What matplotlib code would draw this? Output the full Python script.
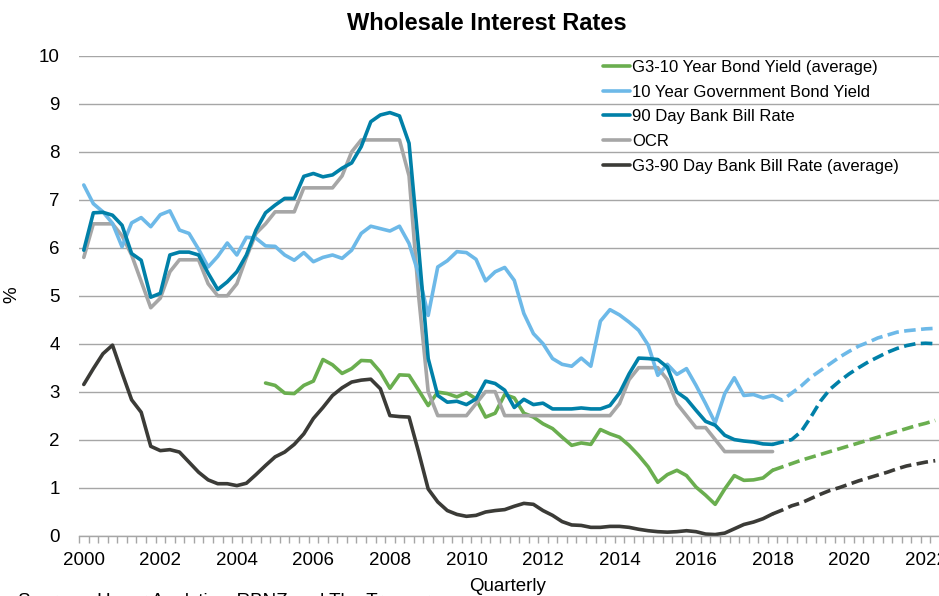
import matplotlib
matplotlib.use("Agg")
import matplotlib.pyplot as plt
import numpy as np

plt.rcParams['font.family'] = ['Liberation Sans', 'DejaVu Sans']

# Quarterly index: 0 = 2000Q1 ... 89 = 2022Q2 ; history to 72 (2018Q1), forecast 72..89
tick_labels = ["2000", "2002", "2004", "2006", "2008", "2010", "2012",
               "2014", "2016", "2018", "2020", "2022"]

g3_10yr = [3.18, 3.13, 2.97, 2.96, 3.13, 3.22, 3.67, 3.56, 3.38, 3.48, 3.65, 3.64,
           3.41, 3.07, 3.35, 3.34, 3.03, 2.71, 2.99, 2.96, 2.89, 2.98, 2.85, 2.47,
           2.55, 2.94, 2.87, 2.55, 2.47, 2.33, 2.23, 2.05, 1.88, 1.93, 1.90, 2.21,
           2.12, 2.05, 1.88, 1.67, 1.43, 1.11, 1.27, 1.36, 1.25, 1.01, 0.84, 0.65,
           0.97, 1.25, 1.15, 1.16, 1.20, 1.36]  # starts 2004Q4 (index 19)
g3_10yr_start = 19
g3_10yr_fc = [1.36, 1.43, 1.50, 1.57, 1.63, 1.69, 1.75, 1.81, 1.87, 1.93, 1.99,
              2.05, 2.11, 2.17, 2.23, 2.29, 2.34, 2.40]

gov_10yr = [7.31, 6.92, 6.75, 6.51, 6.02, 6.52, 6.63, 6.44, 6.69, 6.77, 6.37, 6.30,
            5.97, 5.60, 5.82, 6.10, 5.85, 6.22, 6.20, 6.04, 6.03, 5.85, 5.74, 5.90,
            5.71, 5.80, 5.85, 5.78, 5.95, 6.30, 6.45, 6.40, 6.35, 6.45, 6.09, 5.45,
            4.59, 5.60, 5.73, 5.92, 5.90, 5.76, 5.31, 5.50, 5.59, 5.32, 4.63, 4.21,
            4.00, 3.69, 3.57, 3.53, 3.70, 3.53, 4.47, 4.71, 4.60, 4.45, 4.28, 3.97,
            3.34, 3.57, 3.36, 3.48, 3.13, 2.75, 2.35, 2.96, 3.29, 2.92, 2.94, 2.87,
            2.92]
gov_10yr_fc = [2.92, 2.82, 2.97, 3.12, 3.30, 3.44, 3.58, 3.72, 3.84, 3.95, 4.03,
               4.12, 4.18, 4.24, 4.27, 4.29, 4.31, 4.32]

bill_90d = [5.95, 6.73, 6.74, 6.68, 6.47, 5.88, 5.74, 4.97, 5.05, 5.85, 5.91, 5.91,
            5.85, 5.47, 5.13, 5.29, 5.50, 5.85, 6.37, 6.73, 6.89, 7.03, 7.03, 7.49,
            7.55, 7.48, 7.52, 7.66, 7.77, 8.11, 8.63, 8.77, 8.82, 8.75, 8.18, 6.00,
            3.69, 2.92, 2.78, 2.80, 2.73, 2.85, 3.22, 3.17, 3.03, 2.67, 2.84, 2.73,
            2.76, 2.64, 2.64, 2.64, 2.66, 2.64, 2.64, 2.71, 2.97, 3.37, 3.70, 3.69,
            3.67, 3.51, 2.99, 2.85, 2.61, 2.38, 2.30, 2.09, 2.00, 1.97, 1.95, 1.91,
            1.90]
bill_90d_fc = [1.90, 1.95, 2.00, 2.17, 2.47, 2.80, 3.05, 3.22, 3.37, 3.50, 3.62,
               3.72, 3.82, 3.90, 3.96, 4.00, 4.01, 4.00]

ocr = [5.80, 6.50, 6.50, 6.50, 6.25, 5.85, 5.30, 4.75, 4.95, 5.50, 5.75, 5.75,
       5.75, 5.25, 5.00, 5.00, 5.25, 5.80, 6.30, 6.50, 6.75, 6.75, 6.75, 7.25,
       7.25, 7.25, 7.25, 7.50, 8.00, 8.25, 8.25, 8.25, 8.25, 8.25, 7.50, 5.00,
       3.00, 2.50, 2.50, 2.50, 2.50, 2.75, 3.00, 3.00, 2.50, 2.50, 2.50, 2.50,
       2.50, 2.50, 2.50, 2.50, 2.50, 2.50, 2.50, 2.50, 2.75, 3.25, 3.50, 3.50,
       3.50, 3.25, 2.75, 2.50, 2.25, 2.25, 2.00, 1.75, 1.75, 1.75, 1.75, 1.75,
       1.75]

g3_90d = [3.15, 3.48, 3.79, 3.97, 3.39, 2.83, 2.57, 1.86, 1.77, 1.79, 1.74, 1.53,
          1.32, 1.16, 1.08, 1.08, 1.04, 1.09, 1.27, 1.46, 1.64, 1.74, 1.90, 2.12,
          2.44, 2.67, 2.92, 3.08, 3.20, 3.24, 3.26, 3.06, 2.50, 2.48, 2.47, 1.74,
          0.97, 0.70, 0.52, 0.44, 0.40, 0.42, 0.49, 0.52, 0.54, 0.61, 0.67, 0.65,
          0.52, 0.42, 0.29, 0.22, 0.21, 0.17, 0.17, 0.19, 0.19, 0.17, 0.13, 0.10,
          0.08, 0.07, 0.08, 0.10, 0.08, 0.03, 0.02, 0.05, 0.14, 0.23, 0.28, 0.35,
          0.45]
g3_90d_fc = [0.45, 0.53, 0.62, 0.68, 0.77, 0.86, 0.94, 1.00, 1.07, 1.14, 1.20,
             1.26, 1.32, 1.39, 1.45, 1.49, 1.53, 1.56]

C_GREEN = '#6AAE4F'
C_LBLUE = '#6DB9E8'
C_TEAL = '#0080A8'
C_GRAY = '#A6A6A6'
C_BLACK = '#3B3B37'

fig = plt.figure(figsize=(9.39, 5.96), dpi=100)
ax = fig.add_axes([79 / 939, 1 - 535.5 / 596, 861 / 939, (535.5 - 56) / 596])

lw = 2.6
dash = (3.2, 1.5)
fc_start = 72
hist_x = np.arange(fc_start + 1)
fc_x = np.arange(fc_start, fc_start + len(gov_10yr_fc))
g3x = np.arange(g3_10yr_start, g3_10yr_start + len(g3_10yr))

kw = dict(lw=lw, solid_joinstyle='round', solid_capstyle='round')
l1, = ax.plot(g3x, g3_10yr, color=C_GREEN, label='G3-10 Year Bond Yield (average)', **kw)
ax.plot(fc_x, g3_10yr_fc, color=C_GREEN, lw=lw, dashes=dash)
l5, = ax.plot(hist_x, g3_90d, color=C_BLACK, label='G3-90 Day Bank Bill Rate (average)', **kw)
ax.plot(fc_x, g3_90d_fc, color=C_BLACK, lw=lw, dashes=dash)
l4, = ax.plot(hist_x, ocr, color=C_GRAY, label='OCR', **kw)
l2, = ax.plot(hist_x, gov_10yr, color=C_LBLUE, label='10 Year Government Bond Yield', **kw)
ax.plot(fc_x, gov_10yr_fc, color=C_LBLUE, lw=lw, dashes=dash)
l3, = ax.plot(hist_x, bill_90d, color=C_TEAL, label='90 Day Bank Bill Rate', **kw)
ax.plot(fc_x, bill_90d_fc, color=C_TEAL, lw=lw, dashes=dash)

ax.set_xlim(-0.5, 89.5)
ax.set_ylim(0, 10)
ax.set_yticks(range(0, 11))
ax.grid(axis='y', color='#A6A6A6', lw=1.0)
ax.set_axisbelow(True)
for s in ['left', 'right', 'top']:
    ax.spines[s].set_visible(False)
ax.spines['bottom'].set_color('#A6A6A6')
ax.spines['bottom'].set_linewidth(1.0)

ax.set_xticks(np.arange(0, 90, 8))
ax.set_xticklabels(tick_labels)
ax.set_xticks(np.arange(-0.5, 90, 1), minor=True)
ax.tick_params(axis='x', which='major', length=0, pad=12, labelsize=13.5, colors='black')
ax.tick_params(axis='x', which='minor', length=5, width=1.0, color='#A6A6A6', direction='out')
ax.tick_params(axis='y', length=0, pad=14, labelsize=13.5)

ax.set_ylabel('%', fontsize=13.5)
ax.yaxis.set_label_coords(-(79 - 20) / 861, (535.5 - 295) / 479.5)
ax.set_xlabel('Quarterly', fontsize=13.5)
ax.xaxis.set_label_coords((508 - 79) / 861, -0.088)

fig.text(487 / 939, 1 - 23 / 596, 'Wholesale Interest Rates', fontsize=17,
         fontweight='bold', ha='center', va='center')

leg = ax.legend(handles=[l1, l2, l3, l4, l5], loc='upper left',
                bbox_to_anchor=((603 - 79) / 861, 1.0 - (60 - 56) / 479.5),
                frameon=False, fontsize=12, handlelength=1.6, handletextpad=0.15,
                labelspacing=0.58, borderaxespad=0, borderpad=0)

fig.text(18 / 939, -10 / 596, 'Sources: Haver Analytics, RBNZ and The Treasury',
         fontsize=13.5, ha='left', va='baseline')

fig.savefig('out.png', dpi=100)
